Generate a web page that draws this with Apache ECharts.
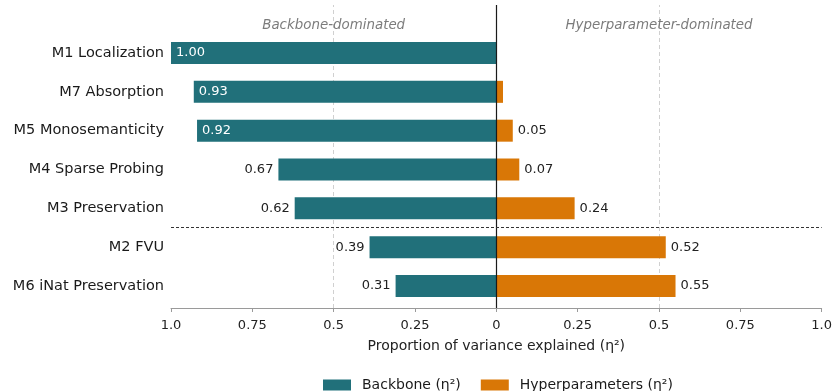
<!DOCTYPE html>
<html>
<head>
<meta charset="utf-8">
<script src="https://cdn.jsdelivr.net/npm/echarts@6/dist/echarts.min.js"></script>
<style>
  html, body { margin: 0; padding: 0; background: #fff; }
  #chart { width: 835px; height: 391px; }
</style>
</head>
<body>
<div id="chart"></div>
<script>
// Metrics, top to bottom
const metrics = ['M1 Localization', 'M7 Absorption', 'M5 Monosemanticity', 'M4 Sparse Probing',
                 'M3 Preservation', 'M2 FVU', 'M6 iNat Preservation'];
// Share of variance explained by the backbone (eta squared)
const backboneEta = [1.00, 0.93, 0.92, 0.67, 0.62, 0.39, 0.31];
// Share of variance explained by the hyperparameters (eta squared)
const hyperEta = [0.00, 0.02, 0.05, 0.07, 0.24, 0.52, 0.55];
// Horizontal ticks (signed; labels show magnitude)
const xTicks = [-1, -0.75, -0.5, -0.25, 0, 0.25, 0.5, 0.75, 1];
// Region captions and where they sit on the x scale
const regionLabels = ['Backbone-dominated', 'Hyperparameter-dominated'];
const regionCenters = [-0.5, 0.5];
const seriesNames = ['Backbone (η²)', 'Hyperparameters (η²)'];

const FONT = 'DejaVu Sans';
const TEAL = '#21707a';
const ORANGE = '#d97706';

// Overlay grid uses row units: bottom row centre = 0, top row centre = 6
const ROW_MIN = -0.567, ROW_MAX = 7.236;
const CAPTION_ROW = 6.72;
const SPLIT_ROW = 1.5; // between M3 and M2

const chart = echarts.init(document.getElementById('chart'), null, { renderer: 'canvas' });

const fmtTick = v => {
  const a = Math.abs(v);
  if (a === 0) return '0';
  if (a === 1) return '1.0';
  return String(a);
};

chart.setOption({
  animation: false,
  textStyle: { fontFamily: FONT },
  grid: [
    { left: 171, right: 13, top: 33.6, bottom: 85.6 },  // bars
    { left: 171, right: 13, top: 5, bottom: 83 }         // frame, ticks, reference lines
  ],
  xAxis: [
    { gridIndex: 0, type: 'value', min: -1, max: 1, show: false },
    {
      gridIndex: 1, type: 'value', min: xTicks[0], max: xTicks[xTicks.length - 1], interval: 0.25,
      axisLine: { show: true, onZero: false, lineStyle: { color: '#9a9a9a', width: 1 } },
      axisTick: { show: true, length: 4, lineStyle: { color: '#9a9a9a' } },
      splitLine: { show: false },
      axisLabel: { fontFamily: FONT, fontSize: 13, color: '#222', margin: 11, formatter: fmtTick },
      name: 'Proportion of variance explained (η²)',
      nameLocation: 'middle',
      nameGap: 31,
      nameTextStyle: { fontFamily: FONT, fontSize: 14, color: '#222' }
    }
  ],
  yAxis: [
    {
      gridIndex: 0, type: 'category', data: metrics, inverse: true,
      axisLine: { show: false }, axisTick: { show: false }, splitLine: { show: false },
      axisLabel: { fontFamily: FONT, fontSize: 14.5, color: '#1a1a1a', margin: 7 }
    },
    { gridIndex: 1, type: 'value', min: ROW_MIN, max: ROW_MAX, show: false }
  ],
  legend: {
    left: 318, top: 373,
    itemWidth: 28, itemHeight: 11, itemGap: 20,
    icon: 'rect',
    textStyle: { fontFamily: FONT, fontSize: 14, color: '#1a1a1a', padding: [0, 0, 0, 6] },
    data: seriesNames
  },
  series: [
    {
      // light dashed guides behind the bars, plus region captions
      name: 'guides',
      type: 'scatter',
      xAxisIndex: 1, yAxisIndex: 1,
      symbolSize: 0,
      silent: true,
      data: regionLabels.map((t, i) => ({ value: [regionCenters[i], CAPTION_ROW], name: t })),
      label: {
        show: true, position: 'inside', formatter: p => p.name,
        fontFamily: FONT, fontSize: 13.4, fontStyle: 'italic', color: '#5a5a5a'
      },
      markLine: {
        silent: true, symbol: 'none', label: { show: false }, z: 0,
        data: [
          { xAxis: -0.5, lineStyle: { color: '#d0d0d0', type: [4, 3], width: 1 } },
          { xAxis: 0.5, lineStyle: { color: '#d0d0d0', type: [4, 3], width: 1 } }
        ]
      },
      z: 1
    },
    {
      // zero line and group separator drawn over the bars
      name: 'dividers',
      type: 'scatter',
      xAxisIndex: 1, yAxisIndex: 1,
      symbolSize: 0,
      silent: true,
      data: [],
      markLine: {
        silent: true, symbol: 'none', label: { show: false },
        data: [
          { xAxis: 0, lineStyle: { color: '#1a1a1a', type: 'solid', width: 1.2 } },
          { yAxis: SPLIT_ROW, lineStyle: { color: '#333', type: [3, 2], width: 1 } }
        ]
      },
      z: 5
    },
    {
      name: seriesNames[0],
      type: 'bar',
      xAxisIndex: 0, yAxisIndex: 0,
      barWidth: 22,
      barGap: '-100%',
      itemStyle: { color: TEAL },
      data: backboneEta.map(v => ({
        value: -v,
        label: v >= 0.9
          ? { position: 'insideLeft', color: '#fff', distance: 5 }
          : { position: 'left', color: '#222', distance: 5 }
      })),
      label: {
        show: true, fontFamily: FONT, fontSize: 13,
        formatter: p => Math.abs(p.value).toFixed(2)
      },
      z: 2
    },
    {
      name: seriesNames[1],
      type: 'bar',
      xAxisIndex: 0, yAxisIndex: 0,
      barWidth: 22,
      barGap: '-100%',
      itemStyle: { color: ORANGE },
      data: hyperEta,
      label: {
        show: true, position: 'right', distance: 5,
        fontFamily: FONT, fontSize: 13, color: '#222',
        formatter: p => (p.value >= 0.04 ? p.value.toFixed(2) : '')
      },
      z: 2
    }
  ]
});
</script>
</body>
</html>
